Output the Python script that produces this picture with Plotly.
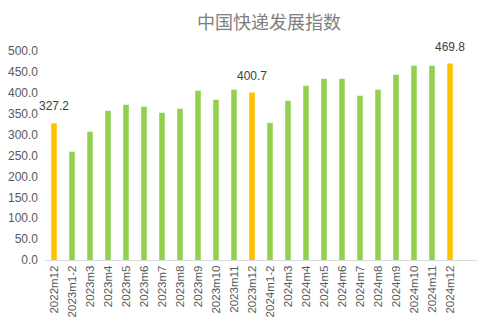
import plotly.graph_objects as go

categories = ["2022m12", "2023m1-2", "2023m3", "2023m4", "2023m5", "2023m6", "2023m7",
              "2023m8", "2023m9", "2023m10", "2023m11", "2023m12", "2024m1-2", "2024m3",
              "2024m4", "2024m5", "2024m6", "2024m7", "2024m8", "2024m9", "2024m10",
              "2024m11", "2024m12"]
values = [327.2, 259.0, 306.7, 357.0, 371.4, 366.6, 352.0, 361.8, 404.9, 383.3, 407.0,
          400.7, 328.0, 381.0, 417.0, 433.6, 433.6, 393.0, 407.0, 443.0, 464.8, 464.8, 469.8]
highlight = ["2022m12", "2023m12", "2024m12"]
tick_vals = [0, 50, 100, 150, 200, 250, 300, 350, 400, 450, 500]

colors = ["#FFC000" if c in highlight else "#92D050" for c in categories]

fig = go.Figure(go.Bar(
    x=list(range(len(categories))), y=values, marker_color=colors, marker_line_width=0,
    width=0.31,
))

for i, (c, v) in enumerate(zip(categories, values)):
    if c in highlight:
        fig.add_annotation(x=i, y=v, text=f"{v:.1f}", showarrow=False, yanchor="bottom",
                           yshift=8, font=dict(family="Liberation Sans, Arial", size=12,
                                               color="#404040"))

fig.update_layout(
    width=492, height=331, margin=dict(l=45, r=15, t=51, b=71),
    paper_bgcolor="white", plot_bgcolor="white", showlegend=False,
    title=dict(text="中国快递发展指数", x=0.547, xanchor="center", y=0.93, yanchor="middle",
               font=dict(family="Noto Sans CJK SC", size=18, color="#7f7f7f")),
    font=dict(family="Liberation Sans, Arial", size=11, color="#595959"),
)
fig.update_xaxes(
    tickmode="array", tickvals=list(range(len(categories))), ticktext=categories,
    tickangle=-90, range=[-0.5, 23.5], showline=True, linecolor="#d9d9d9", linewidth=1,
    showgrid=False, ticks="", tickfont=dict(size=11.5, color="#595959"), automargin=False,
)
fig.update_yaxes(
    range=[0, 500], tickvals=tick_vals, ticktext=[f"{v:.1f}" for v in tick_vals],
    showgrid=False, zeroline=False, showline=False, ticks="", ticklabelstandoff=6,
    tickfont=dict(size=12, color="#595959"), automargin=False,
)

fig.write_html("out.html")
